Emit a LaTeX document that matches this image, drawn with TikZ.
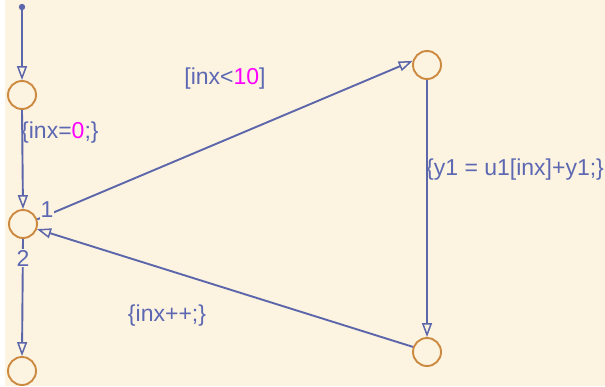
\documentclass[tikz,border=0pt]{standalone}
\usepackage{fontspec}
\setmainfont{Liberation Sans}
\usetikzlibrary{arrows.meta}

\definecolor{cream}{RGB}{253,243,225}
\definecolor{wire}{RGB}{92,102,170}
\definecolor{ink}{RGB}{92,104,178}
\definecolor{ring}{RGB}{204,138,64}
\definecolor{hot}{RGB}{255,0,255}

\begin{document}
\begin{tikzpicture}[
    x=1pt, y=-1pt,
    font=\fontsize{23}{26}\selectfont,
    junc/.style={draw=ring, line width=1.9pt, circle, minimum size=28pt, inner sep=0pt},
    flow/.style={draw=wire, line width=1.9pt,
                 -{Triangle[open, length=14pt, width=10pt, line width=1.5pt]}},
    lbl/.style={text=ink, inner sep=1pt},
    ord/.style={text=ink, fill=cream, inner sep=1pt},
]
    % canvas
    \useasboundingbox (0,0) rectangle (605,386);
    \fill[cream] (5,0) rectangle (605,386);

    %==================== JUNCTIONS ====================
    \node[junc] (j0) at (22,95) {};
    \node[junc] (jm) at (23,224) {};
    \node[junc] (jend) at (22,371) {};
    \node[junc] (jtop) at (427,65) {};
    \node[junc] (jbot) at (427,352) {};

    % default transition
    \fill[wire] (22,7) circle (3.2pt);
    \coordinate (dflt) at (22,7);
    \draw[flow] (dflt) -- (j0.north);
    \draw[flow] (j0.south) -- (jm.north);
    \node[lbl, anchor=west] (init) at (20,133) {\{inx=\textcolor{hot}{0};\}};

    %==================== LOOP ====================
    \draw[flow] (jm.18) -- (jtop.164);
    \node[ord] at (47,210) {1};
    \node[lbl] (cond) at (225,79) {[inx<\textcolor{hot}{10}]};

    \draw[flow] (jtop.south) -- (jbot.north);
    \node[lbl, anchor=west] (body) at (425,170) {\{y1 = u1[inx]+y1;\}};

    \draw[flow] (jbot.160) -- (jm.340);
    \node[lbl] (incr) at (167,316) {\{inx++;\}};

    %==================== EXIT ====================
    \draw[flow] (jm.south) -- (jend.north);
    \node[ord] at (23,258) {2};

\end{tikzpicture}
\end{document}
